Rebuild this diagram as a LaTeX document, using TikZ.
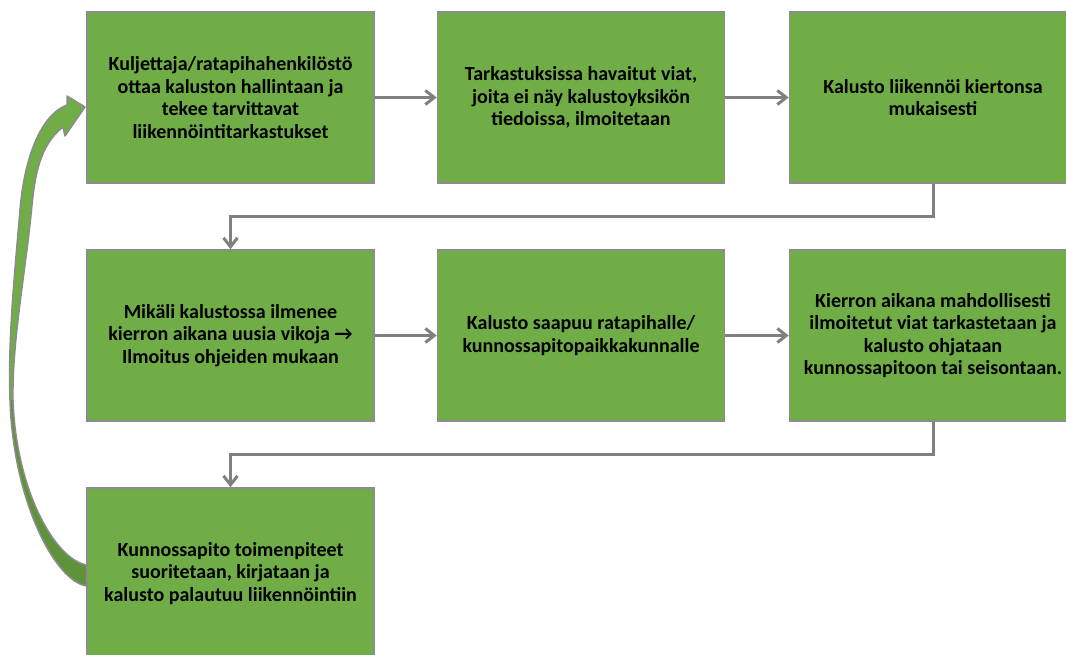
\documentclass[tikz,border=0pt]{standalone}
\usepackage{fontspec}
\usepackage{xcolor}
\usepackage{tikz}
\usetikzlibrary{arrows.meta, positioning, calc}
\setmainfont{Carlito}
\definecolor{stageGreen}{RGB}{112, 173, 71}
\definecolor{stageShade}{RGB}{96, 146, 60}
\definecolor{lineGray}{RGB}{128, 128, 128}
\definecolor{edgeGray}{RGB}{140, 140, 140}

\begin{document}
\begin{tikzpicture}[
    x=1pt, y=-1pt,
    stage/.style={
        rectangle,
        draw=edgeGray,
        line width=1.5pt,
        fill=stageGreen,
        minimum width=287pt,
        minimum height=171pt,
        align=center,
        font=\fontsize{20}{22.5}\selectfont\bfseries
    },
    flow/.style={
        draw=lineGray,
        line width=3pt,
        -{Straight Barb[length=9pt, width=14pt]}
    }
]
    \useasboundingbox (0,0) rectangle (1066,655);

    % Return arrow (drawn below the boxes)
    \fill[stageGreen] (67,105) -- (67,96) -- (85,107) -- (65,136) -- (63,127)
        .. controls (40,145) and (35,175) .. (32,205)
        .. controls (26,270) and (12,340) .. (13,400)
        -- (10,400)
        .. controls (8,340) and (14,280) .. (20,210)
        .. controls (24,160) and (40,115) .. (67,105) -- cycle;
    \fill[stageShade] (13,400) .. controls (16,490) and (55,560) .. (87,565)
        -- (87,586) .. controls (55,582) and (13,500) .. (10,400) -- cycle;
    \draw[edgeGray, line width=1.5pt, line join=round]
        (67,105) -- (67,96) -- (85,107) -- (65,136) -- (63,127)
        .. controls (40,145) and (35,175) .. (32,205)
        .. controls (26,270) and (12,340) .. (13,400)
        .. controls (16,490) and (55,560) .. (87,565)
        -- (87,586)
        .. controls (55,582) and (13,500) .. (10,400)
        .. controls (8,340) and (14,280) .. (20,210)
        .. controls (24,160) and (40,115) .. (67,105) -- cycle;

    % Row 1
    \node[stage] (takeover) at (230.5,97.5) {Kuljettaja/ratapihahenkilöstö\\ottaa kaluston hallintaan ja\\tekee tarvittavat\\liikennöintitarkastukset};
    \node[stage, right=62pt of takeover] (report) {Tarkastuksissa havaitut viat,\\joita ei näy kalustoyksikön\\tiedoissa, ilmoitetaan};
    \node[stage, right=63.5pt of report] (operate) {Kalusto liikennöi kiertonsa\\mukaisesti};

    % Row 2
    \node[stage, below=65.5pt of takeover] (fault) {Mikäli kalustossa ilmenee\\kierron aikana uusia vikoja →\\Ilmoitus ohjeiden mukaan};
    \node[stage, right=62pt of fault] (arrive) {Kalusto saapuu ratapihalle/\\kunnossapitopaikkakunnalle};
    \node[stage, right=63.5pt of arrive] (check) {Kierron aikana mahdollisesti\\ilmoitetut viat tarkastetaan ja\\kalusto ohjataan\\kunnossapitoon tai seisontaan.};

    % Row 3
    \node[stage, below=65.5pt of fault] (repair) {Kunnossapito toimenpiteet\\suoritetaan, kirjataan ja\\kalusto palautuu liikennöintiin};

    % Connections
    \foreach \from/\to in {takeover/report, report/operate, fault/arrive, arrive/check} {
        \draw[flow] (\from) -- (\to);
    }
    \draw[flow] (operate.south) |- ($(operate.south)!0.5!(fault.north)$) -| (fault.north);
    \draw[flow] (check.south) |- ($(check.south)!0.5!(repair.north)$) -| (repair.north);

\end{tikzpicture}
\end{document}
